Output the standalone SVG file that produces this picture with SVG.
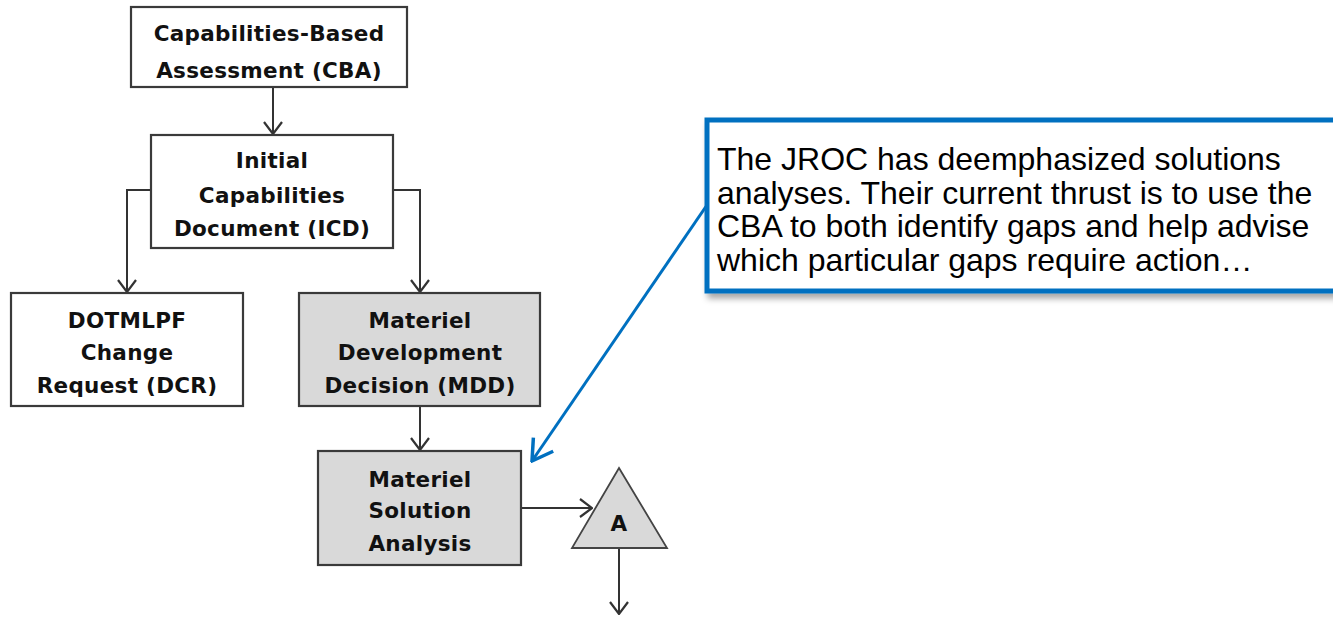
<svg xmlns="http://www.w3.org/2000/svg" width="1333" height="617" viewBox="0 0 1333 617">
<style>
.box{stroke:#3a3a3a;stroke-width:2.2}
.w{fill:#ffffff}
.g{fill:#d9d9d9}
.t{font-family:"DejaVu Sans",sans-serif;font-weight:bold;font-size:21.5px;fill:#111;text-anchor:middle;letter-spacing:0.3px}
.c{fill:none;stroke:#333;stroke-width:2}
.ct{font-family:"Liberation Sans",Arial,sans-serif;font-size:32px;fill:#000}
</style>
<defs>
<marker id="ah" viewBox="0 0 14 20" refX="13" refY="10" markerWidth="14" markerHeight="20" markerUnits="userSpaceOnUse" orient="auto">
<path d="M1,1 L13,10 L1,19" fill="none" stroke="#333" stroke-width="2.2"/>
</marker>
<marker id="bh" viewBox="0 0 24 28" refX="22" refY="14" markerWidth="24" markerHeight="28" markerUnits="userSpaceOnUse" orient="auto">
<path d="M2,2 L22,14 L2,26" fill="none" stroke="#0070c0" stroke-width="3.5"/>
</marker>
<filter id="sh" x="-5%" y="-10%" width="115%" height="130%">
<feDropShadow dx="3" dy="5" stdDeviation="3" flood-color="#000" flood-opacity="0.35"/>
</filter>
</defs>

<g id="connectors">
<line class="c" x1="273" y1="87" x2="273" y2="134" marker-end="url(#ah)"/>
<polyline class="c" points="151,190 127,190 127,292" marker-end="url(#ah)"/>
<polyline class="c" points="393,190 420,190 420,292" marker-end="url(#ah)"/>
<line class="c" x1="420" y1="406" x2="420" y2="450" marker-end="url(#ah)"/>
<line class="c" x1="521" y1="508" x2="592" y2="508" marker-end="url(#ah)"/>
<line class="c" x1="619" y1="548" x2="619" y2="614" marker-end="url(#ah)"/>
<line x1="707" y1="205" x2="532" y2="461" stroke="#0070c0" stroke-width="3" marker-end="url(#bh)"/>
</g>

<g id="cba">
<rect class="box w" x="131" y="7" width="276" height="80"/>
<text class="t" x="269" y="41">Capabilities-Based</text>
<text class="t" x="269" y="78">Assessment (CBA)</text>
</g>

<g id="icd">
<rect class="box w" x="151" y="135" width="242" height="113"/>
<text class="t" x="272" y="168">Initial</text>
<text class="t" x="272" y="203">Capabilities</text>
<text class="t" x="272" y="236">Document (ICD)</text>
</g>

<g id="dcr">
<rect class="box w" x="11" y="293" width="232" height="113"/>
<text class="t" x="127" y="328">DOTMLPF</text>
<text class="t" x="127" y="360">Change</text>
<text class="t" x="127" y="393">Request (DCR)</text>
</g>

<g id="mdd">
<rect class="box g" x="299" y="293" width="241" height="113"/>
<text class="t" x="420" y="328">Materiel</text>
<text class="t" x="420" y="360">Development</text>
<text class="t" x="420" y="393">Decision (MDD)</text>
</g>

<g id="msa">
<rect class="box g" x="318" y="451" width="203" height="114"/>
<text class="t" x="420" y="487">Materiel</text>
<text class="t" x="420" y="518">Solution</text>
<text class="t" x="420" y="551">Analysis</text>
</g>

<g id="a">
<polygon points="619,468 667,548 572,548" fill="#d9d9d9" stroke="#444" stroke-width="1.8"/>
<text class="t" x="619" y="531">A</text>
</g>

<g id="callout">
<rect x="707" y="120" width="640" height="171" fill="#fff" stroke="#0070c0" stroke-width="5" filter="url(#sh)"/>
<text class="ct" x="717" y="170">The JROC has deemphasized solutions</text>
<text class="ct" x="717" y="204">analyses. Their current thrust is to use the</text>
<text class="ct" x="717" y="237">CBA to both identify gaps and help advise</text>
<text class="ct" x="717" y="271">which particular gaps require action…</text>
</g>
</svg>
